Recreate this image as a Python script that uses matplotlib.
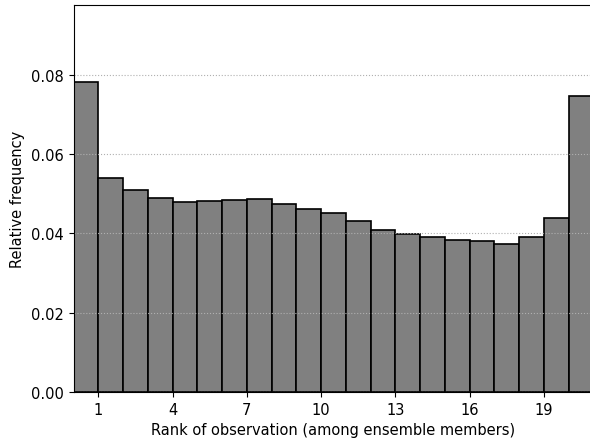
import numpy as np
import matplotlib
matplotlib.use('Agg')
import matplotlib.pyplot as plt

# rank histogram values
ranks = np.arange(1, 22)
rel_freq = [0.0781, 0.0539, 0.0510, 0.0488, 0.0478, 0.0481, 0.0483,
            0.0486, 0.0474, 0.0462, 0.0450, 0.0430, 0.0409, 0.0399,
            0.0391, 0.0383, 0.0381, 0.0374, 0.0391, 0.0438, 0.0747]
xticks = [1, 4, 7, 10, 13, 16, 19]
yticks = [0.00, 0.02, 0.04, 0.06, 0.08]

plt.rcParams['font.size'] = 10.5

fig = plt.figure(figsize=(5.9, 4.39), dpi=100)
ax = fig.add_axes([73.5 / 590, 46 / 439, 520 / 590, 387.3 / 439])

ax.bar(ranks - 1, rel_freq, width=1.0, align='edge',
       color='gray', edgecolor='black', linewidth=1.2)

ax.set_xlim(0, 21)
ax.set_ylim(0, max(rel_freq) * 1.25)
ax.set_xticks(xticks)
ax.set_yticks(yticks)
ax.set_yticklabels([f'{v:.2f}' for v in yticks])
ax.yaxis.grid(True, linestyle=':', color='#b0b0b0', linewidth=0.8)

ax.set_xlabel('Rank of observation (among ensemble members)')
ax.set_ylabel('Relative frequency')

fig.savefig('out.png', dpi=100)
